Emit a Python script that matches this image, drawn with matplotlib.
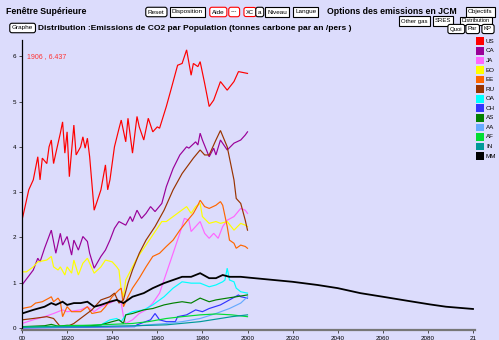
import matplotlib
matplotlib.use('Agg')
import matplotlib.pyplot as plt

# Series (year, tonnes C per person per year)
us_years = [1900, 1901, 1903, 1905, 1907, 1908, 1909, 1911, 1912, 1913, 1914, 1915, 1917, 1918,
            1919, 1920, 1921, 1923, 1924, 1926, 1927, 1928, 1929, 1930, 1932, 1935, 1937, 1938,
            1939, 1941, 1943, 1944, 1946, 1947, 1949, 1951, 1952, 1954, 1956, 1958, 1960, 1961,
            1964, 1966, 1969, 1971, 1973, 1975, 1976, 1978, 1979, 1981, 1983, 1985, 1988, 1991,
            1994, 1996, 2000]
us = [2.38, 2.6, 3.05, 3.27, 3.78, 3.27, 3.75, 3.63, 4.0, 4.15, 3.63, 3.86, 4.3, 4.55,
      3.86, 4.33, 3.34, 4.48, 3.82, 4.0, 4.22, 3.97, 4.19, 3.78, 2.6, 3.05, 3.6, 3.05,
      3.27, 4.0, 4.4, 4.59, 4.11, 4.63, 3.86, 4.67, 4.44, 4.15, 4.63, 4.33, 4.44, 4.41,
      4.89, 5.25, 5.8, 5.84, 6.14, 5.58, 5.84, 5.77, 5.88, 5.4, 4.89, 5.03, 5.44, 5.25,
      5.44, 5.66, 5.62]

ca_years = [1900, 1905, 1907, 1908, 1910, 1913, 1915, 1917, 1918, 1920, 1922, 1923, 1925, 1927,
            1929, 1930, 1932, 1935, 1937, 1939, 1941, 1943, 1946, 1948, 1949, 1951, 1953, 1955,
            1957, 1959, 1962, 1964, 1967, 1970, 1973, 1974, 1977, 1978, 1979, 1980, 1983, 1985,
            1986, 1988, 1991, 1994, 1997, 1999, 2000]
ca = [0.95, 1.28, 1.54, 1.46, 1.76, 2.16, 1.65, 2.09, 1.83, 2.02, 1.61, 1.94, 1.72, 2.02,
      1.91, 1.65, 1.32, 1.58, 1.72, 1.94, 2.2, 2.35, 2.27, 2.46, 2.35, 2.6, 2.42, 2.53,
      2.68, 2.57, 2.75, 3.12, 3.52, 3.82, 4.0, 3.97, 4.11, 4.04, 4.3, 4.15, 3.78, 3.97,
      3.82, 4.15, 3.93, 4.08, 4.15, 4.26, 4.33]

ja_years = [1900, 1905, 1910, 1914, 1918, 1920, 1926, 1929, 1932, 1935, 1939, 1942, 1944, 1945,
            1946, 1949, 1952, 1955, 1958, 1961, 1964, 1967, 1970, 1972, 1974, 1975, 1977, 1979,
            1981, 1983, 1985, 1987, 1989, 1991, 1994, 1997, 1999, 2000]
ja = [0.1, 0.18, 0.25, 0.32, 0.4, 0.36, 0.4, 0.47, 0.36, 0.47, 0.55, 0.62, 0.55, 0.25,
      0.1, 0.18, 0.32, 0.4, 0.55, 0.77, 1.21, 1.65, 2.09, 2.42, 2.38, 2.13, 2.24, 2.35,
      2.09, 1.98, 2.09, 1.98, 2.24, 2.38, 2.46, 2.64, 2.6, 2.53]

eo_years = [1900, 1902, 1905, 1907, 1911, 1913, 1914, 1916, 1917, 1919, 1920, 1922, 1923, 1925,
            1927, 1929, 1930, 1932, 1935, 1937, 1940, 1942, 1943, 1944, 1945, 1946, 1949, 1951,
            1954, 1957, 1960, 1962, 1964, 1967, 1970, 1973, 1975, 1977, 1979, 1980, 1983, 1986,
            1988, 1991, 1994, 1997, 1999, 2000]
eo = [1.24, 1.24, 1.35, 1.46, 1.5, 1.58, 1.35, 1.28, 1.35, 1.17, 1.35, 1.21, 1.5, 1.17,
      1.43, 1.54, 1.43, 1.21, 1.35, 1.5, 1.46, 1.35, 1.28, 0.84, 0.69, 1.06, 1.35, 1.54,
      1.76, 1.98, 2.2, 2.35, 2.35, 2.46, 2.57, 2.68, 2.53, 2.68, 2.75, 2.46, 2.31, 2.35,
      2.31, 2.35, 2.16, 2.31, 2.27, 2.24]

ee_years = [1900, 1904, 1906, 1909, 1912, 1913, 1914, 1916, 1917, 1918, 1920, 1922, 1926, 1929,
            1931, 1935, 1937, 1940, 1943, 1944, 1945, 1947, 1949, 1952, 1955, 1958, 1961, 1964,
            1967, 1970, 1973, 1976, 1978, 1979, 1981, 1983, 1986, 1988, 1989, 1991, 1992, 1994,
            1995, 1997, 1999, 2000]
ee = [0.43, 0.47, 0.55, 0.58, 0.66, 0.69, 0.58, 0.66, 0.58, 0.25, 0.47, 0.36, 0.36, 0.47,
      0.32, 0.36, 0.47, 0.69, 0.84, 0.88, 0.47, 0.69, 0.88, 1.1, 1.35, 1.58, 1.65, 1.8,
      1.94, 2.16, 2.35, 2.53, 2.71, 2.82, 2.68, 2.64, 2.71, 2.79, 2.71, 2.24, 1.94, 1.87,
      1.76, 1.83, 1.8, 1.76]

ru_years = [1900, 1905, 1911, 1914, 1917, 1920, 1923, 1927, 1931, 1935, 1939, 1941, 1943, 1945,
            1947, 1949, 1952, 1955, 1959, 1963, 1967, 1971, 1976, 1979, 1981, 1983, 1986, 1988,
            1991, 1994, 1995, 1997, 1999, 2000]
ru = [0.18, 0.21, 0.25, 0.21, 0.03, 0.03, 0.1, 0.25, 0.4, 0.62, 0.69, 0.77, 0.55, 0.62,
      0.99, 1.28, 1.65, 1.94, 2.24, 2.6, 3.05, 3.41, 3.75, 3.93, 3.82, 3.82, 4.15, 4.36,
      4.0, 3.27, 2.86, 2.75, 2.38, 2.16]

oa_years = [1900, 1930, 1935, 1939, 1942, 1944, 1946, 1949, 1954, 1958, 1963, 1967, 1971, 1975,
            1979, 1983, 1986, 1989, 1990, 1991, 1992, 1994, 1995, 1997, 2000]
oa = [0.02, 0.03, 0.07, 0.18, 0.21, 0.14, 0.29, 0.36, 0.4, 0.51, 0.69, 0.88, 1.02, 0.99,
      0.99, 0.91, 0.95, 1.02, 1.06, 1.32, 1.06, 1.02, 0.88, 0.8, 0.77]

ch_years = [1900, 1950, 1951, 1957, 1959, 1961, 1964, 1968, 1969, 1973, 1977, 1980, 1983, 1988,
            1992, 1996, 1997, 2000]
ch = [0.0, 0.03, 0.07, 0.18, 0.32, 0.18, 0.14, 0.14, 0.25, 0.29, 0.4, 0.36, 0.43, 0.51,
      0.62, 0.73, 0.69, 0.66]

as_years = [1900, 1910, 1913, 1916, 1920, 1930, 1935, 1940, 1943, 1945, 1946, 1949, 1954, 1958,
            1963, 1967, 1971, 1975, 1979, 1983, 1986, 1991, 1995, 2000]
as_ = [0.03, 0.05, 0.08, 0.04, 0.06, 0.05, 0.07, 0.14, 0.18, 0.1, 0.29, 0.32, 0.4, 0.43,
       0.51, 0.55, 0.58, 0.55, 0.66, 0.58, 0.62, 0.66, 0.69, 0.73]

aa_years = [1900, 1950, 1956, 1964, 1971, 1979, 1986, 1992, 1997, 2000]
aa = [0.01, 0.04, 0.07, 0.1, 0.14, 0.21, 0.32, 0.43, 0.55, 0.69]

af_years = [1900, 1935, 1949, 1956, 1964, 1971, 1979, 1986, 1993, 2000]
af = [0.02, 0.07, 0.1, 0.14, 0.21, 0.25, 0.29, 0.31, 0.29, 0.25]

in_years = [1900, 1930, 1950, 1964, 1979, 1993, 2000]
in_ = [0.02, 0.03, 0.05, 0.07, 0.14, 0.25, 0.29]

mm_years = [1900, 1905, 1910, 1913, 1915, 1918, 1920, 1923, 1926, 1929, 1932, 1935, 1939, 1942,
            1945, 1949, 1954, 1958, 1963, 1967, 1971, 1975, 1979, 1983, 1986, 1989, 1992, 1997,
            2001, 2020, 2031, 2040, 2050, 2060, 2071, 2081, 2088, 2100]
mm = [0.32, 0.4, 0.47, 0.55, 0.51, 0.58, 0.51, 0.55, 0.55, 0.58, 0.47, 0.51, 0.58, 0.62,
      0.55, 0.69, 0.77, 0.88, 0.99, 1.06, 1.13, 1.13, 1.21, 1.1, 1.1, 1.17, 1.13, 1.13,
      1.11, 1.02, 0.95, 0.88, 0.77, 0.69, 0.6, 0.52, 0.47, 0.42]

region_names = ['US', 'CA', 'JA', 'EO', 'EE', 'RU', 'OA', 'CH', 'AS', 'AA', 'AF', 'IN', 'MM']
region_colors = ['#ff0000', '#990099', '#ff66ff', '#ffff00', '#ff6600', '#993300', '#00ffff',
                 '#3333ff', '#008000', '#66aaff', '#00dd33', '#009999', '#000000']
series = [(us_years, us), (ca_years, ca), (ja_years, ja), (eo_years, eo), (ee_years, ee),
          (ru_years, ru), (oa_years, oa), (ch_years, ch), (as_years, as_), (aa_years, aa),
          (af_years, af), (in_years, in_), (mm_years, mm)]

x_ticks = [1900, 1920, 1940, 1960, 1980, 2000, 2020, 2040, 2060, 2080, 2100]
x_tick_labels = ['00', '1920', '1940', '1960', '1980', '2000', '2020', '2040', '2060', '2080', '21']
y_ticks = [0, 1, 2, 3, 4, 5, 6]

BG = '#dcdcfc'
W, H = 499, 340
plt.rcParams['font.family'] = ['Liberation Sans', 'DejaVu Sans']

fig = plt.figure(figsize=(W / 100, H / 100), dpi=100, facecolor=BG)


def px(x, y):
    return x / W, 1 - y / H


def button(x, y, label, color='black', shape='square', size=4.6):
    fx, fy = px(x, y)
    style = 'round,pad=0.35' if shape == 'round' else 'square,pad=0.35'
    fig.text(fx, fy, label, fontsize=size, ha='left', va='center', color='black',
             bbox=dict(boxstyle=style, fc='white', ec=color, lw=0.8))


# header
fig.text(*px(6, 12), 'Fenêtre Supérieure', fontsize=6.3, fontweight='bold', va='center')
button(148, 12, 'Reset', shape='round')
button(172, 12, 'Disposition')
button(212, 12, 'Aide', color='red', shape='round')
button(231, 12, '---', color='red', shape='round')
button(246, 12, 'XC', color='red', shape='round', size=4.2)
button(258, 12, 'a', shape='round')
button(267, 12, 'Niveau')
button(295, 12, 'Langue')
fig.text(*px(327, 12), 'Options des emissions en JCM', fontsize=6.3, fontweight='bold', va='center')
button(468, 12, 'Objectifs')
button(401, 21, 'Other gas', size=4.3)
button(435, 21, 'SRES', size=4.3)
button(462, 21, 'Distribution', size=4.1)
button(12, 28, 'Graphe', shape='round')
fig.text(*px(38, 28), 'Distribution :Emissions de CO2 par Population (tonnes carbone par an /pers )',
         fontsize=6.0, fontweight='bold', va='center')
button(450, 29, 'Quoi', shape='round', size=4.3)
button(468, 29, 'Par', shape='round', size=4.3)
button(484, 29, 'KP', shape='round', size=4.3)

# plot area: 1900 at x=22px, 2100 at x=473px; 0 at y=328px, 6 at y=56px
left, bottom = px(22, 330)
right, top = px(475, 40)
ax = fig.add_axes([left, bottom, right - left, top - bottom], facecolor=BG)
ax.set_xlim(1900, 1900 + (475 - 22) / 2.255)
ax.set_ylim((328 - 330) / 45.3, (328 - 40) / 45.3)

for (yrs, vals), col, name in zip(series, region_colors, region_names):
    lw = 1.3 if name == 'MM' else 0.85
    ax.plot(yrs, vals, color=col, lw=lw, solid_joinstyle='miter')

for s in ['top', 'right']:
    ax.spines[s].set_visible(False)
ax.spines['left'].set_color('black')
ax.spines['left'].set_linewidth(0.9)
ax.spines['bottom'].set_color('#777777')
ax.spines['bottom'].set_linewidth(1.6)
ax.set_xticks(x_ticks)
ax.set_xticklabels(x_tick_labels)
ax.set_yticks(y_ticks)
ax.tick_params(axis='both', labelsize=4.5, length=2.5, width=0.6, pad=1.5, color='#333333')

ax.text(1902, 6.0, '1906 , 6.437', color='#ff3333', fontsize=5, va='center', ha='left')

# legend squares on the right
for i, (name, col) in enumerate(zip(region_names, region_colors)):
    yc = 41.3 + 9.57 * i
    fig.patches.append(plt.Rectangle(px(476, yc + 3.8), 7.5 / W, 7.6 / H, transform=fig.transFigure,
                                     fc=col, ec='none'))
    fig.text(*px(486, yc), name, fontsize=4.5, va='center', ha='left')

fig.savefig('out.png', dpi=100, facecolor=BG)
